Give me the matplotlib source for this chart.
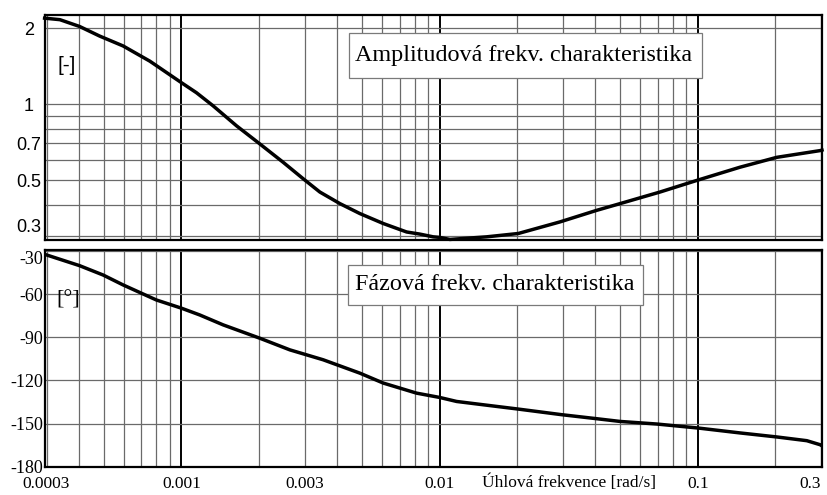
import numpy as np
import matplotlib
matplotlib.use('Agg')
import matplotlib.pyplot as plt
from matplotlib.ticker import FixedLocator, NullLocator
from matplotlib.patches import Rectangle

## data
freq_amp=[0.000295,0.000338,0.000403,0.000482,0.000594,0.000754,0.001,0.001143,0.001326,0.001634,
          0.002012,0.002476,0.00296,0.003436,0.00411,0.00491,0.00605,0.00745,0.00839,0.00944,
          0.01,0.01096,0.01521,0.02017,0.02926,0.0406,0.05,0.0714,0.0991,0.1458,
          0.2024,0.2979,0.303]
amp=[2.19,2.16,2.03,1.86,1.70,1.48,1.216,1.11,0.985,0.821,
     0.696,0.589,0.507,0.449,0.404,0.369,0.337,0.312,0.306,0.2985,
     0.297,0.2915,0.2985,0.3077,0.342,0.380,0.404,0.449,0.499,0.563,
     0.616,0.655,0.658]

freq_ph=[0.000295,0.000403,0.000497,0.000594,0.0007,0.0008,0.001,0.001177,0.00145,0.002012,
         0.00263,0.00354,0.00491,0.00605,0.00814,0.01,0.01164,0.01476,0.02017,0.0297,
         0.0406,0.05,0.0694,0.1005,0.1458,0.2024,0.2646,0.2979,0.303]
phase=[-32.2,-40.1,-46.6,-53.5,-59.3,-64.0,-69.7,-74.4,-81.3,-90.6,
       -98.7,-105.6,-114.9,-121.8,-128.8,-131.8,-134.6,-136.9,-139.9,-143.8,
       -146.6,-148.5,-150.3,-153.1,-156.5,-159.3,-161.9,-164.7,-165.5]

xticks=[0.0003,0.001,0.003,0.01,0.1,0.3]
xticklabels=['0.0003','0.001','0.003','0.01','0.1','0.3']
amp_ticks=[0.3,0.5,0.7,1,2]
amp_ticklabels=['0.3','0.5','0.7','1','2']
amp_grid=[0.3,0.4,0.5,0.6,0.7,0.8,0.9,1,2]
ph_ticks=[-180,-150,-120,-90,-60,-30]

serif='Liberation Serif'
sans='Liberation Sans'

xlim=(0.000296,0.303)
minor_x=[m*10.0**e for e in range(-4,0) for m in range(2,10)]
minor_x=[v for v in minor_x if xlim[0]<v<xlim[1]]
major_x=[0.001,0.01,0.1]

def decorate(ax):
    ax.set_xscale('log')
    ax.set_xlim(xlim)
    for v in minor_x:
        ax.axvline(v,color='#6a6a6a',lw=0.9,zorder=1)
    for v in major_x:
        ax.axvline(v,color='k',lw=1.4,zorder=1)
    for s in ax.spines.values():
        s.set_linewidth(1.6)
    ax.tick_params(which='both',length=0)
    ax.xaxis.set_minor_locator(NullLocator())

def label_box(ax,x0,x1,y0,y1,xt,yt,txt):
    ax.add_patch(Rectangle((x0,y0),x1-x0,y1-y0,transform=ax.transAxes,facecolor='white',
                           edgecolor='#7a7a7a',lw=0.9,zorder=4))
    ax.text(xt,yt,txt,transform=ax.transAxes,fontsize=17.4,family=serif,ha='left',va='center',zorder=5)

fig=plt.figure(figsize=(8.28,4.95),dpi=100)

### amplitude
ax1=fig.add_axes([0.05435,0.51515,0.93841,0.45515])
decorate(ax1)
ax1.set_yscale('log')
ax1.set_ylim(0.29,2.26)
for v in amp_grid:
    ax1.axhline(v,color='#6a6a6a',lw=0.9,zorder=1)
ax1.yaxis.set_major_locator(FixedLocator(amp_ticks))
ax1.yaxis.set_minor_locator(NullLocator())
ax1.set_yticklabels(amp_ticklabels,fontsize=13,family=sans)
for t in ax1.get_yticklabels():
    t.set_horizontalalignment('center')
ax1.get_yticklabels()[0].set_verticalalignment('bottom')
ax1.tick_params(axis='y',pad=11.5)
ax1.set_xticks(xticks)
ax1.set_xticklabels([])
ax1.plot(freq_amp,amp,'-',color='k',lw=2.5,zorder=3,clip_on=False)
ax1.text(0.028,0.776,'[-]',transform=ax1.transAxes,fontsize=15,family=sans,ha='center',va='center')
label_box(ax1,0.3912,0.8456,0.719,0.9188,0.399,0.819,'Amplitudová frekv. charakteristika')

### phase
ax2=fig.add_axes([0.05435,0.05717,0.93841,0.43778])
decorate(ax2)
ax2.set_ylim(-180,-29.2)
for v in ph_ticks[1:]:
    ax2.axhline(v,color='#6a6a6a',lw=0.9,zorder=1)
ax2.set_yticks(ph_ticks)
ax2.set_yticklabels(['%d'%v for v in ph_ticks],fontsize=13,family=serif)
ax2.get_yticklabels()[-1].set_verticalalignment('top')
ax2.tick_params(axis='y',pad=1)
ax2.set_xticks(xticks)
ax2.set_xticklabels(xticklabels,fontsize=12.5,family=serif)
ax2.get_xticklabels()[-1].set_horizontalalignment('right')
ax2.tick_params(axis='x',pad=6.5)
ax2.plot(freq_ph,phase,'-',color='k',lw=2.5,zorder=3)
ax2.text(0.03,0.77,'[°]',transform=ax2.transAxes,fontsize=16,family=serif,ha='center',va='center')
label_box(ax2,0.39,0.7696,0.7462,0.9308,0.399,0.8385,'Fázová frekv. charakteristika')
ax2.text(0.5624,-0.074,'Úhlová frekvence [rad/s]',transform=ax2.transAxes,fontsize=12.5,family=serif,
         ha='left',va='center')

plt.savefig('out.png',format='png',dpi=100)
